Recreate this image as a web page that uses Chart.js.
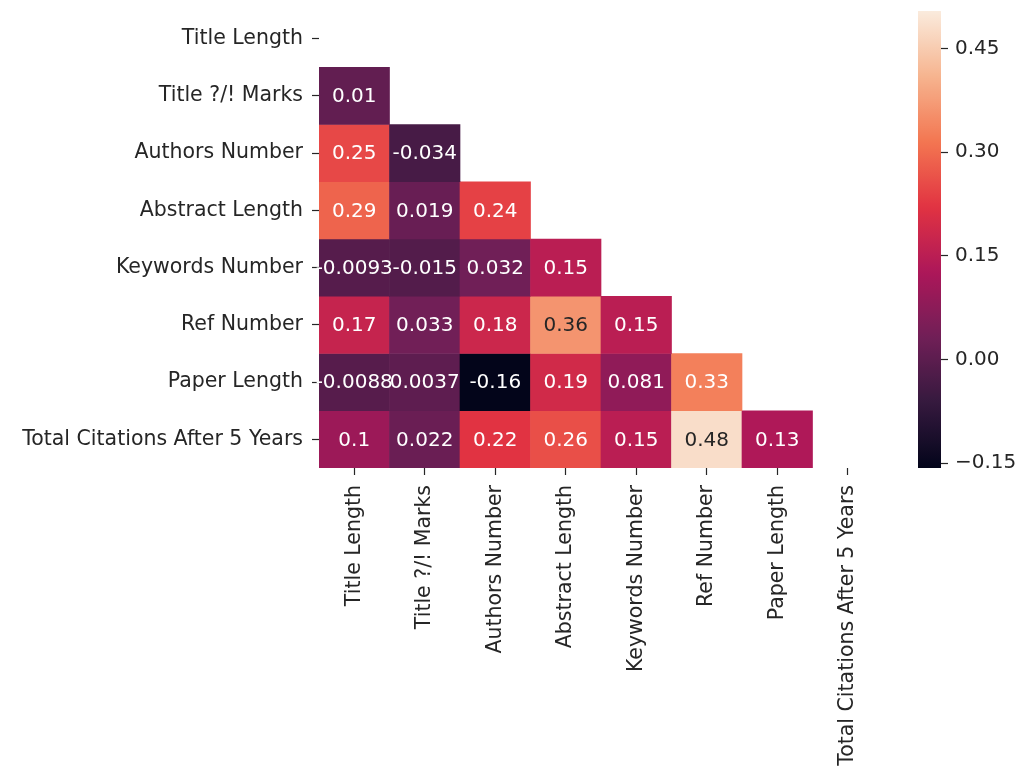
<!DOCTYPE html>
<html>
<head>
<meta charset="utf-8">
<script src="https://cdn.jsdelivr.net/npm/chart.js@4/dist/chart.umd.min.js"></script>
<style>
  html, body { margin: 0; padding: 0; background: #ffffff; }
  #wrap { position: relative; width: 1021px; height: 778px; overflow: hidden; }
  #heat { position: absolute; left: 0; top: 0; }
  #cbar { position: absolute; left: 900px; top: 0; }
</style>
</head>
<body>
<div id="wrap">
  <canvas id="heat" width="1021" height="778"></canvas>
  <canvas id="cbar" width="121" height="778"></canvas>
</div>
<script>
// ---- data ----
const rowLabels = ["Title Length", "Title ?/! Marks", "Authors Number", "Abstract Length",
  "Keywords Number", "Ref Number", "Paper Length", "Total Citations After 5 Years"];
const colLabels = ["Title Length", "Title ?/! Marks", "Authors Number", "Abstract Length",
  "Keywords Number", "Ref Number", "Paper Length", "Total Citations After 5 Years"];

const rowTitleLength = [];
const rowTitleMarks = [0.01];
const rowAuthors = [0.25, -0.034];
const rowAbstract = [0.29, 0.019, 0.24];
const rowKeywords = [-0.0093, -0.015, 0.032, 0.15];
const rowRef = [0.17, 0.033, 0.18, 0.36, 0.15];
const rowPaper = [-0.0088, 0.0037, -0.16, 0.19, 0.081, 0.33];
const rowCitations = [0.1, 0.022, 0.22, 0.26, 0.15, 0.48, 0.13];
const corrRows = [rowTitleLength, rowTitleMarks, rowAuthors, rowAbstract,
  rowKeywords, rowRef, rowPaper, rowCitations];

const colorMin = -0.157;
const colorMax = 0.504;
const colorbarTicks = [-0.15, 0.00, 0.15, 0.30, 0.45];

// ---- rocket colormap ----
const rocketStops = [
  [0.000, [3, 5, 26]],
  [0.143, [53, 25, 62]],
  [0.286, [112, 31, 87]],
  [0.429, [173, 23, 89]],
  [0.571, [225, 51, 66]],
  [0.714, [243, 118, 81]],
  [0.857, [246, 180, 143]],
  [1.000, [250, 235, 221]]
];
function rocketRGB(t) {
  t = Math.max(0, Math.min(1, t));
  for (let k = 1; k < rocketStops.length; k++) {
    const [t1, c1] = rocketStops[k];
    const [t0, c0] = rocketStops[k - 1];
    if (t <= t1) {
      const f = (t - t0) / (t1 - t0);
      return c0.map((v, i) => v + (c1[i] - v) * f);
    }
  }
  return rocketStops[rocketStops.length - 1][1];
}
function rgbStr(c) { return `rgb(${Math.round(c[0])},${Math.round(c[1])},${Math.round(c[2])})`; }
function valueColor(v) { return rocketRGB((v - colorMin) / (colorMax - colorMin)); }
function luminance(c) {
  const lin = c.map(x => { x /= 255; return x <= 0.03928 ? x / 12.92 : Math.pow((x + 0.055) / 1.055, 2.4); });
  return 0.2126 * lin[0] + 0.7152 * lin[1] + 0.0722 * lin[2];
}
function fmt(v) { return parseFloat(v.toPrecision(2)).toString(); }

Chart.defaults.font.family = "'DejaVu Sans', sans-serif";
Chart.defaults.font.size = 20;
Chart.defaults.color = '#262626';

// ---- heatmap datasets: one per row, floating bars spanning row band ----
const datasets = corrRows.map((vals, i) => ({
  label: rowLabels[i],
  data: colLabels.map((_, j) => (j < vals.length ? [i, i + 1] : null)),
  backgroundColor: colLabels.map((_, j) => (j < vals.length ? rgbStr(valueColor(vals[j])) : 'rgba(0,0,0,0)')),
  borderWidth: 0,
  barPercentage: 1,
  categoryPercentage: 1,
  grouped: false
})).filter((d, i) => corrRows[i].length > 0);

const annotPlugin = {
  id: 'annot',
  afterDatasetsDraw(chart) {
    const { ctx, scales: { x, y } } = chart;
    ctx.save();
    ctx.font = "20px 'DejaVu Sans'";
    ctx.textAlign = 'center';
    ctx.textBaseline = 'middle';
    corrRows.forEach((vals, i) => {
      vals.forEach((v, j) => {
        const c = valueColor(v);
        ctx.fillStyle = luminance(c) > 0.408 ? '#262626' : '#ffffff';
        ctx.fillText(fmt(v), x.getPixelForValue(j), y.getPixelForValue(i + 0.5) + 1);
      });
    });
    ctx.restore();
  }
};

const labelFont = { family: "'DejaVu Sans', sans-serif", size: 20.5 };

new Chart(document.getElementById('heat'), {
  type: 'bar',
  data: { labels: colLabels, datasets },
  options: {
    responsive: false,
    animation: false,
    devicePixelRatio: 1,
    layout: { padding: { left: 0, top: 10, right: 138, bottom: 0 } },
    plugins: { legend: { display: false }, tooltip: { enabled: false } },
    scales: {
      x: {
        type: 'category',
        offset: true,
        grid: { offset: false, drawOnChartArea: false, drawTicks: true, tickLength: 7, tickColor: '#262626', tickWidth: 1.2 },
        border: { display: false },
        ticks: { minRotation: 90, maxRotation: 90, autoSkip: false, padding: 10, color: '#262626', font: labelFont },
        afterFit(scale) { scale.height = 310; scale.paddingLeft = 0; scale.paddingRight = 0; }
      },
      y: {
        type: 'linear',
        min: 0, max: 8,
        reverse: true,
        grid: { drawOnChartArea: false, drawTicks: true, tickLength: 7, tickColor: '#262626', tickWidth: 1.2 },
        border: { display: false },
        afterBuildTicks(scale) { scale.ticks = rowLabels.map((_, i) => ({ value: i + 0.5 })); },
        ticks: { autoSkip: false, padding: 9, color: '#262626', font: labelFont, callback: (v, idx) => rowLabels[idx] },
        afterFit(scale) { scale.width = 319; scale.paddingTop = 0; scale.paddingBottom = 0; }
      }
    }
  },
  plugins: [annotPlugin]
});

// ---- colorbar ----
new Chart(document.getElementById('cbar'), {
  type: 'bar',
  data: {
    labels: ['cb'],
    datasets: [{
      data: [[colorMin, colorMax]],
      borderWidth: 0,
      barPercentage: 1,
      categoryPercentage: 1,
      backgroundColor(ctx) {
        const ca = ctx.chart.chartArea;
        if (!ca) return 'rgba(0,0,0,0)';
        const g = ctx.chart.ctx.createLinearGradient(0, ca.bottom, 0, ca.top);
        const N = 64;
        for (let k = 0; k <= N; k++) g.addColorStop(k / N, rgbStr(rocketRGB(k / N)));
        return g;
      }
    }]
  },
  options: {
    responsive: false,
    animation: false,
    devicePixelRatio: 1,
    layout: { padding: { left: 18, top: 11, right: 0, bottom: 310 } },
    plugins: { legend: { display: false }, tooltip: { enabled: false } },
    scales: {
      x: { display: false },
      y: {
        position: 'right',
        min: colorMin, max: colorMax,
        grid: { drawOnChartArea: false, drawTicks: true, tickLength: 7, tickColor: '#262626', tickWidth: 1.2 },
        border: { display: false },
        afterBuildTicks(scale) { scale.ticks = colorbarTicks.map(v => ({ value: v })); },
        ticks: { autoSkip: false, padding: 7, color: '#262626',
          callback: (v) => v.toFixed(2).replace('-', '\u2212') },
        afterFit(scale) { scale.width = 80; scale.paddingTop = 0; scale.paddingBottom = 0; }
      }
    }
  }
});
</script>
</body>
</html>
